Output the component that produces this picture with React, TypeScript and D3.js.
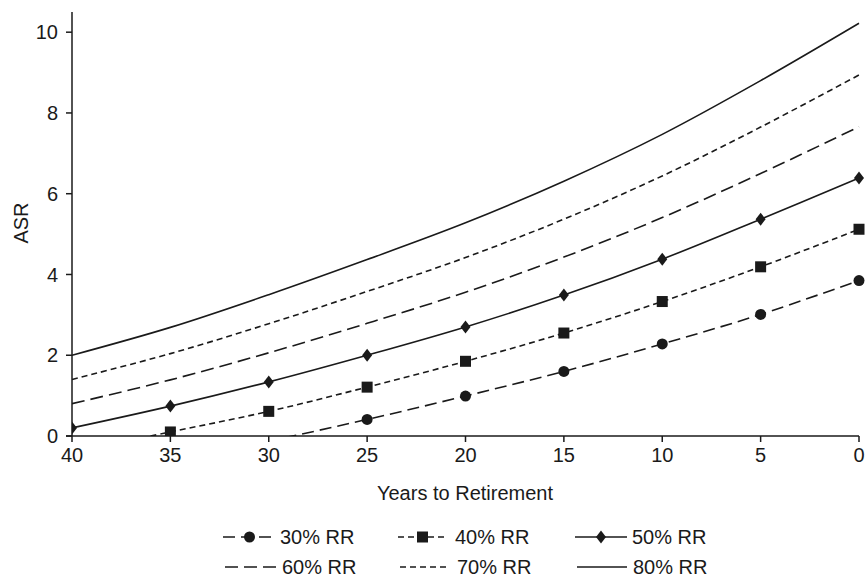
import React from "react";
import * as d3 from "d3";

const years = [40, 35, 30, 25, 20, 15, 10, 5, 0];
const rr30 = [-1.0, -0.55, -0.12, 0.41, 0.99, 1.6, 2.28, 3.01, 3.85];
const rr40 = [-0.4, 0.1, 0.61, 1.21, 1.85, 2.55, 3.33, 4.19, 5.12];
const rr50 = [0.2, 0.74, 1.34, 2.0, 2.7, 3.49, 4.38, 5.37, 6.39];
const rr60 = [0.8, 1.39, 2.06, 2.79, 3.56, 4.43, 5.41, 6.5, 7.66];
const rr70 = [1.4, 2.04, 2.78, 3.58, 4.42, 5.37, 6.44, 7.65, 8.94];
const rr80 = [2.0, 2.69, 3.5, 4.37, 5.28, 6.31, 7.47, 8.8, 10.22];
const xTicks = [40, 35, 30, 25, 20, 15, 10, 5, 0];
const yTicks = [0, 2, 4, 6, 8, 10];

type Marker = "circle" | "square" | "diamond" | "none";
const series: { name: string; values: number[]; dash: string; marker: Marker }[] = [
  { name: "30% RR", values: rr30, dash: "12,6", marker: "circle" },
  { name: "40% RR", values: rr40, dash: "6,4", marker: "square" },
  { name: "50% RR", values: rr50, dash: "", marker: "diamond" },
  { name: "60% RR", values: rr60, dash: "13,6", marker: "none" },
  { name: "70% RR", values: rr70, dash: "6,4", marker: "none" },
  { name: "80% RR", values: rr80, dash: "", marker: "none" },
];

const FONT = "'Liberation Sans', Arial, Helvetica, sans-serif";
const FS = 20;
const INK = "#1a1a1a";

function MarkerShape({ kind, x, y }: { kind: Marker; x: number; y: number }) {
  if (kind === "circle") return <circle cx={x} cy={y} r={5.5} fill={INK} />;
  if (kind === "square") return <rect x={x - 5.5} y={y - 5.5} width={11} height={11} fill={INK} />;
  if (kind === "diamond")
    return <path d={`M${x},${y - 6.5}L${x + 5},${y}L${x},${y + 6.5}L${x - 5},${y}Z`} fill={INK} />;
  return null;
}

export default function App() {
  const W = 865, H = 577;
  const x = d3.scaleLinear().domain([40, 0]).range([72, 859]);
  const y = d3.scaleLinear().domain([0, 10.5]).range([436, 12]);
  const line = d3
    .line<[number, number]>()
    .x((d) => x(d[0]))
    .y((d) => y(d[1]))
    .curve(d3.curveCatmullRom);

  const legendRows = [
    [
      { s: series[0], x0: 223, x1: 276, tx: 280 },
      { s: series[1], x0: 398, x1: 447, tx: 455 },
      { s: series[2], x0: 575, x1: 627, tx: 632 },
    ],
    [
      { s: series[3], x0: 225, x1: 277, tx: 282 },
      { s: series[4], x0: 400, x1: 448, tx: 457 },
      { s: series[5], x0: 577, x1: 627, tx: 633 },
    ],
  ];
  const rowY = [537, 567];

  return (
    <svg width={W} height={H} style={{ position: "absolute", left: 0, top: 0, background: "#fff" }}>
      <defs>
        <clipPath id="plotclip">
          <rect x={72} y={0} width={800} height={436} />
        </clipPath>
      </defs>
      <g clipPath="url(#plotclip)">
        {series.map((s) => (
          <path
            key={s.name}
            d={line(years.map((yr, i) => [yr, s.values[i]] as [number, number])) || ""}
            fill="none"
            stroke={INK}
            strokeWidth={1.6}
            strokeDasharray={s.dash}
          />
        ))}
        {series.map((s) =>
          years.map((yr, i) =>
            s.values[i] >= 0 ? (
              <MarkerShape key={s.name + yr} kind={s.marker} x={x(yr)} y={y(s.values[i])} />
            ) : null
          )
        )}
      </g>
      <line x1={72} x2={72} y1={12} y2={436} stroke={INK} strokeWidth={1.5} />
      <line x1={66} x2={859} y1={436} y2={436} stroke={INK} strokeWidth={1.5} />
      {yTicks.map((t) => (
        <g key={"y" + t}>
          <line x1={66} x2={72} y1={y(t)} y2={y(t)} stroke={INK} strokeWidth={1.5} />
          <text x={58} y={y(t)} dy="0.36em" textAnchor="end" fontFamily={FONT} fontSize={FS} fill={INK}>
            {t}
          </text>
        </g>
      ))}
      {xTicks.map((t) => (
        <g key={"x" + t}>
          <line x1={x(t)} x2={x(t)} y1={436} y2={442} stroke={INK} strokeWidth={1.5} />
          <text x={x(t)} y={455} dy="0.36em" textAnchor="middle" fontFamily={FONT} fontSize={FS} fill={INK}>
            {t}
          </text>
        </g>
      ))}
      <text
        transform={`translate(21,223) rotate(-90)`}
        dy="0.36em"
        textAnchor="middle"
        fontFamily={FONT}
        fontSize={FS}
        fill={INK}
      >
        ASR
      </text>
      <text x={465} y={493} dy="0.36em" textAnchor="middle" fontFamily={FONT} fontSize={FS} fill={INK}>
        Years to Retirement
      </text>
      {legendRows.map((row, ri) =>
        row.map((e) => (
          <g key={e.s.name}>
            <line
              x1={e.x0}
              x2={e.x1}
              y1={rowY[ri]}
              y2={rowY[ri]}
              stroke={INK}
              strokeWidth={1.6}
              strokeDasharray={e.s.dash}
            />
            <MarkerShape kind={e.s.marker} x={(e.x0 + e.x1) / 2} y={rowY[ri]} />
            <text x={e.tx} y={rowY[ri]} dy="0.36em" fontFamily={FONT} fontSize={FS} fill={INK}>
              {e.s.name}
            </text>
          </g>
        ))
      )}
    </svg>
  );
}
